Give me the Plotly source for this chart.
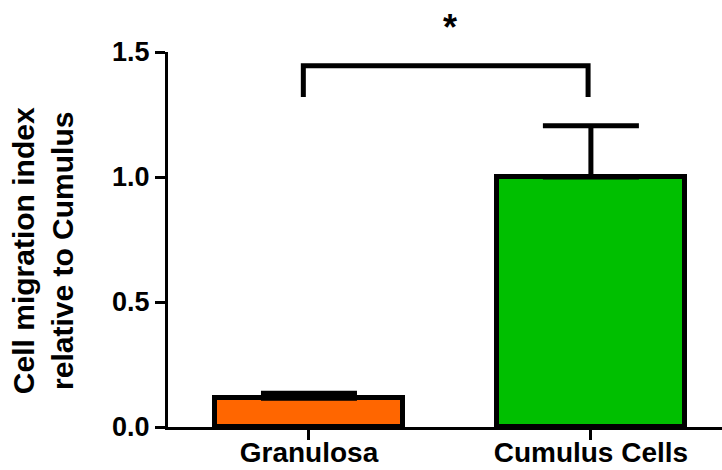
import plotly.graph_objects as go

categories = ["Granulosa", "Cumulus Cells"]
cat_pos = [0, 1]
means = [0.115, 1.0]
errors_up = [0.02, 0.205]
errors_down = [0.0, 0.0]
bar_colors = ["#FF6600", "#00BF00"]
y_ticks = [0.0, 0.5, 1.0, 1.5]
y_tick_labels = ["0.0", "0.5", "1.0", "1.5"]
y_range = [0, 1.5]
bracket_x = [-0.02, -0.02, 0.99, 0.99]
bracket_y = [1.32, 1.445, 1.445, 1.32]
star_text = "*"
star_x = 0.5
star_y = 1.6
y_title = "Cell migration index<br>relative to Cumulus"

FONT = "Arial, Liberation Sans, Helvetica, sans-serif"

fig = go.Figure()
fig.add_trace(go.Bar(
    x=cat_pos, y=means, width=0.665,
    marker=dict(color=bar_colors, line=dict(color="black", width=5)),
    error_y=dict(type="data", symmetric=False, array=errors_up, arrayminus=errors_down,
                 color="black", thickness=5, width=48),
    showlegend=False, hoverinfo="skip",
))
fig.add_trace(go.Scatter(
    x=bracket_x, y=bracket_y, mode="lines",
    line=dict(color="black", width=5),
    showlegend=False, hoverinfo="skip",
))

fig.add_annotation(
    x=star_x, y=(star_y - y_range[0]) / (y_range[1] - y_range[0]),
    xref="x", yref="paper", text=star_text, showarrow=False,
    font=dict(family=FONT, size=36, color="black", weight="bold"),
    xanchor="center", yanchor="middle",
)
fig.add_annotation(
    x=0, y=0.469, xref="paper", yref="paper", text=y_title, showarrow=False,
    textangle=-90, xanchor="right", yanchor="middle", xshift=-87,
    font=dict(family=FONT, size=30, color="black", weight="bold"),
)

fig.update_layout(
    width=722, height=470,
    margin=dict(l=168, r=0, t=52, b=43),
    paper_bgcolor="white", plot_bgcolor="white",
    bargap=0,
    xaxis=dict(
        range=[-0.5, 1.465], tickvals=cat_pos, ticktext=categories,
        showline=True, linewidth=3, linecolor="black",
        ticks="outside", ticklen=10, tickwidth=3, tickcolor="black",
        ticklabelstandoff=-12,
        showgrid=False, zeroline=False, fixedrange=True, automargin=False,
        tickfont=dict(family=FONT, size=28, color="black", weight="bold"),
    ),
    yaxis=dict(
        range=y_range, tickvals=y_ticks, ticktext=y_tick_labels,
        showline=True, linewidth=3, linecolor="black",
        ticks="outside", ticklen=10, tickwidth=3, tickcolor="black",
        showgrid=False, zeroline=False, fixedrange=True, automargin=False,
        tickfont=dict(family=FONT, size=27, color="black", weight="bold"),
    ),
)

fig.write_html("out.html")
